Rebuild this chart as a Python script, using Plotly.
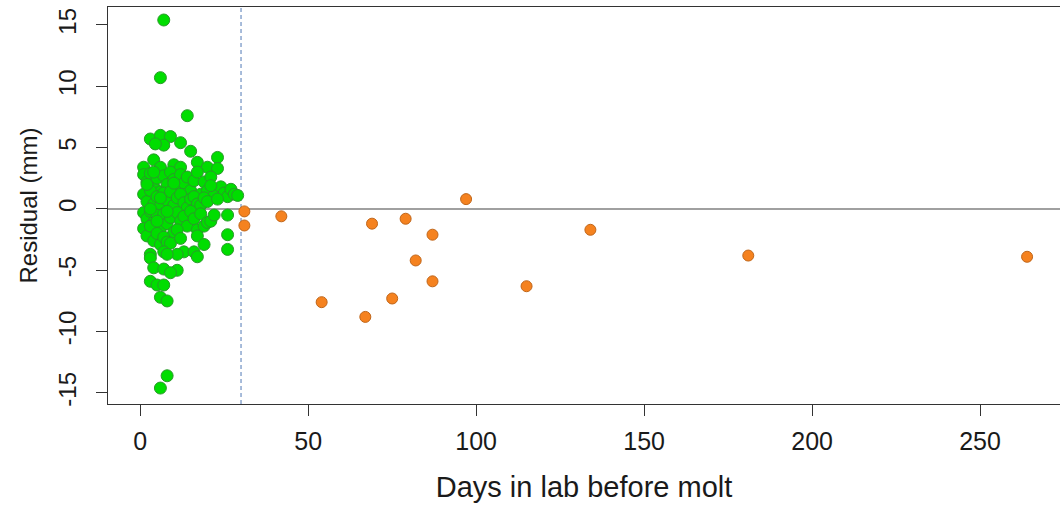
import plotly.graph_objects as go

# Green points (days <= 30)
green_days = [7, 6, 14,
    3, 6, 9, 7, 4.5, 12, 15, 23, 4, 17, 10, 1, 20, 23, 12, 6,
    1, 2, 3, 4, 5, 6, 7, 8, 9, 10, 11, 12, 13, 14, 15, 16, 17, 18, 19, 20, 21, 22, 24, 25, 26, 27, 28, 29,
    1, 2, 3, 4, 5, 6, 7, 8, 9, 10, 11, 12, 13, 14, 15, 16, 17, 18, 19, 20, 21, 23,
    1, 2, 3, 4, 5, 6, 7, 8, 9, 10, 11, 12, 13, 14, 15, 16, 17, 18, 19, 20, 21, 22, 26, 26, 26,
    1, 2, 3, 4, 5, 6, 7, 8, 9, 11, 12, 13, 16, 17, 19, 7, 3,
    3, 4, 7, 11, 9, 3, 5, 7, 6, 8, 11, 17, 8,
    2, 3, 5, 8, 10, 4, 6,
    8, 6]
green_resid = [15.4, 10.7, 7.6,
    5.7, 6.0, 5.9, 5.2, 5.3, 5.4, 4.7, 4.2, 4.0, 3.8, 3.6, 3.4, 3.4, 3.3, 3.4, 3.4,
    2.8, 2.2, 2.9, 1.8, 2.5, 1.4, 2.7, 2.0, 3.0, 2.4, 1.6, 2.8, 2.1, 2.6, 1.5, 2.3, 3.0, 1.2, 2.2, 1.5, 2.6, 1.1, 1.8, 1.3, 1.0, 1.6, 1.2, 1.1,
    1.2, 0.6, 1.5, 0.4, 1.0, 0.2, 1.3, 0.7, 1.4, 0.3, 0.9, 1.2, 0.5, 0.1, 0.8, 1.0, 0.4, 0.3, 0.9, 0.6, 1.9, 0.8,
    -0.3, -0.8, -0.2, -1.1, -0.5, -1.6, -0.4, -1.2, -0.7, -1.9, -0.3, -1.0, -0.6, -1.4, -0.2, -0.8, -1.7, -0.4, -1.4, -1.1, -1.0, -0.5, -0.5, -2.1, -3.3,
    -1.6, -2.2, -1.4, -2.6, -2.0, -2.9, -2.3, -2.7, -2.8, -1.7, -2.4, -3.5, -3.5, -2.2, -2.9, -3.5, -3.7,
    -4.0, -4.8, -4.9, -5.0, -5.2, -5.9, -6.2, -6.2, -7.2, -7.5, -3.7, -3.9, -3.7,
    2.0, 0.0, -1.0, -0.2, 2.1, 3.0, 0.9,
    -13.6, -14.6]

# Orange points (days > 30)
orange_days = [31, 31, 42, 54, 67, 69, 75, 79, 82, 87, 87, 97, 115, 134, 181, 264]
orange_resid = [-0.2, -1.35, -0.6, -7.6, -8.8, -1.2, -7.3, -0.8, -4.2, -5.9, -2.1, 0.8, -6.3, -1.7, -3.8, -3.9]

cutoff_day = 30

x_ticks = [0, 50, 100, 150, 200, 250]
y_ticks = [-15, -10, -5, 0, 5, 10, 15]

FONT = "Liberation Sans, Arial, sans-serif"

fig = go.Figure()
fig.add_trace(go.Scatter(
    x=green_days, y=green_resid, mode="markers",
    marker=dict(size=12, color="#00dd00", line=dict(color="#2a9a2a", width=1)),
    showlegend=False, hoverinfo="skip"))
fig.add_trace(go.Scatter(
    x=orange_days, y=orange_resid, mode="markers",
    marker=dict(size=11, color="#f5821f", line=dict(color="#c0661a", width=1)),
    showlegend=False, hoverinfo="skip"))

fig.add_hline(y=0, line=dict(color="#a0a0a0", width=2), layer="below")
fig.add_vline(x=cutoff_day, line=dict(color="#4f79b5", width=1, dash="4px,3px"), layer="below")

fig.update_layout(
    width=1060, height=506,
    margin=dict(l=108, r=0, t=7, b=102),
    paper_bgcolor="white", plot_bgcolor="white",
    font=dict(family=FONT, color="#1a1a1a"),
    xaxis=dict(
        range=[-9.6, 273.8], tickvals=x_ticks, ticktext=[str(v) for v in x_ticks],
        showgrid=False, zeroline=False, automargin=False,
        showline=True, linecolor="#333333", linewidth=1, mirror=True,
        ticks="outside", ticklen=11, tickcolor="#333333", ticklabelstandoff=4,
        tickfont=dict(size=25, family=FONT, color="#1a1a1a"),
        title=dict(text="Days in lab before molt", font=dict(size=29, family=FONT, color="#1a1a1a"), standoff=22),
    ),
    yaxis=dict(
        range=[-15.9, 16.46], tickvals=y_ticks, ticktext=[str(v) for v in y_ticks],
        showgrid=False, zeroline=False, automargin=False,
        showline=True, linecolor="#333333", linewidth=1, mirror=False,
        ticks="outside", ticklen=11, tickcolor="#333333", tickangle=-90, ticklabelstandoff=10,
        tickfont=dict(size=24, family=FONT, color="#1a1a1a"),
        title=dict(text="Residual (mm)", font=dict(size=24, family=FONT, color="#1a1a1a"), standoff=10),
    ),
)

fig.write_html("out.html", config={"displayModeBar": False},
               post_script="document.body.style.margin='0';")
